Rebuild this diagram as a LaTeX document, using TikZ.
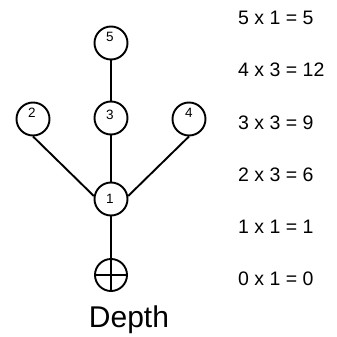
\documentclass[tikz,border=0pt]{standalone}
\usepackage{fontspec}
\setmainfont{Liberation Sans}
\begin{document}
\begin{tikzpicture}[x=1pt,y=-1pt,
  vert/.style={circle,draw,line width=1.9pt,minimum size=33pt,inner sep=0pt},
  lbl/.style={font=\fontsize{13.5}{13.5}\selectfont},
  eq/.style={anchor=base west,font=\fontsize{19.5}{20}\selectfont,inner sep=0pt},
  edge/.style={line width=1.9pt}]
\useasboundingbox (0,0) rectangle (337,337);
\node[vert,label={[lbl,yshift=6pt,xshift=-1pt]center:5}] (n5) at (111,43) {};
\node[vert,label={[lbl,yshift=3pt,xshift=-1pt]center:3}] (n3) at (111,118) {};
\node[vert,label={[lbl,yshift=6pt,xshift=-1pt]center:2}] (n2) at (33,119) {};
\node[vert,label={[lbl,yshift=6pt]center:4}] (n4) at (189,119) {};
\node[vert,label={[lbl,xshift=-1pt]center:1}] (n1) at (111,199) {};
\node[vert,minimum size=32pt] (r) at (111,275) {};
\draw[edge] (r.north) -- (r.south);
\draw[edge] (r.west) -- (r.east);
\draw[edge] (n5.south) -- (n3.north);
\draw[edge] (n3.south) -- (n1.north);
\draw[edge] (n2.south) -- (n1.170);
\draw[edge] (n4.south) -- (n1.10);
\draw[edge] (n1.south) -- (r.north);
\node[anchor=base,font=\fontsize{30}{30}\selectfont,inner sep=0pt] (depth) at (129,327) {Depth};
\node[eq] (e5) at (238,25) {5 x 1 = 5};
\node[eq] (e4) at (238,77) {4 x 3 = 12};
\node[eq] (e3) at (238,129) {3 x 3 = 9};
\node[eq] (e2) at (238,181) {2 x 3 = 6};
\node[eq] (e1) at (238,233) {1 x 1 = 1};
\node[eq] (e0) at (238,285) {0 x 1 = 0};
\end{tikzpicture}
\end{document}
